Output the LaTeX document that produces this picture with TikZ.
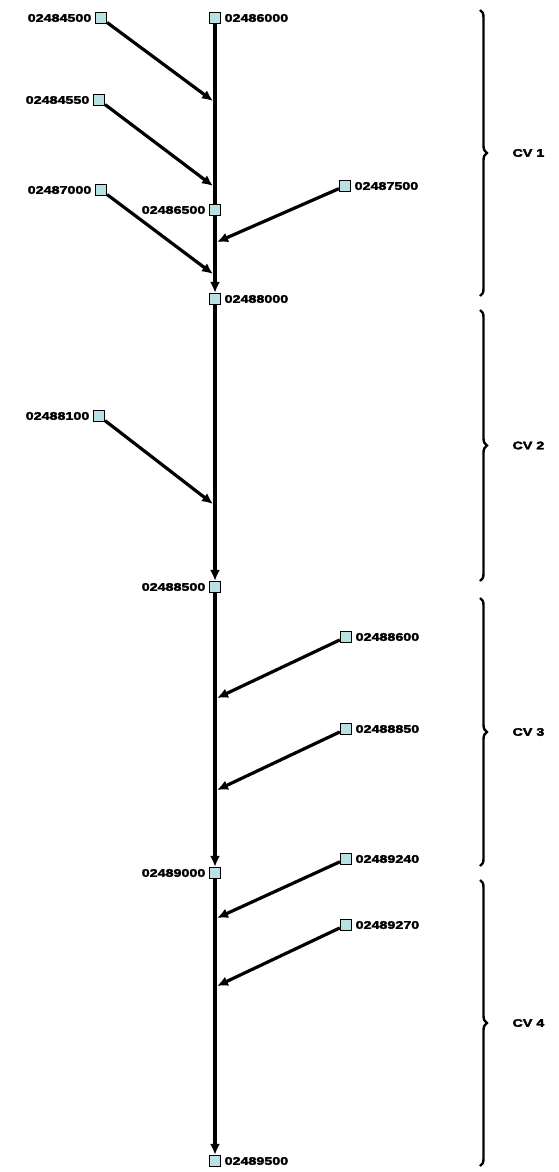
\documentclass[tikz,border=0pt]{standalone}
\usepackage{fontspec}
\newfontfamily\gagefont[FakeStretch=1.3,FakeBold=3]{Liberation Sans Bold}
\usetikzlibrary{arrows.meta,decorations.pathreplacing}
\definecolor{gagefill}{HTML}{B9E0E2}
\tikzset{font=\gagefont\fontsize{11}{12}\selectfont}
\tikzset{gage/.style={draw,line width=1.2pt,fill=gagefill,minimum size=11pt,inner sep=0pt,label distance=3pt}}
\tikzset{flow/.style={line width=3.2pt,-{Latex[length=11pt,width=10pt]}}}
\tikzset{reach/.style={line width=3.2pt}}

\begin{document}
\begin{tikzpicture}[x=1pt,y=-1pt]
  \useasboundingbox (0,0) rectangle (559,1172);
  % main stem gages
  \node[gage,label=right:02486000] (m1) at (215,18) {};
  \node[gage,label=left:02486500] (m2) at (215,210) {};
  \node[gage,label=right:02488000] (m3) at (215,299) {};
  \node[gage,label=left:02488500] (m4) at (215,587) {};
  \node[gage,label=left:02489000] (m5) at (215,873) {};
  \node[gage,label=right:02489500] (m6) at (215,1161) {};
  % tributary gages
  \node[gage,label=left:02484500] (t1) at (101,18) {};
  \node[gage,label=left:02484550] (t2) at (99,100) {};
  \node[gage,label=left:02487000] (t3) at (101,190) {};
  \node[gage,label=right:02487500] (t4) at (345,186) {};
  \node[gage,label=left:02488100] (t5) at (99,416) {};
  \node[gage,label=right:02488600] (t6) at (346,637) {};
  \node[gage,label=right:02488850] (t7) at (346,729) {};
  \node[gage,label=right:02489240] (t8) at (346,859) {};
  \node[gage,label=right:02489270] (t9) at (346,925) {};
  % junctions on the main stem
  \coordinate (j1) at (213,101);
  \coordinate (j2) at (213,186);
  \coordinate (j3) at (213,274);
  \coordinate (j4) at (217,242);
  \coordinate (j5) at (213,504);
  \coordinate (j6) at (217,698);
  \coordinate (j7) at (217,790);
  \coordinate (j8) at (217,918);
  \coordinate (j9) at (217,986);
  % main stem
  \draw[reach] (m1) -- (m2);
  \foreach \a/\b in {m2/m3, m3/m4, m4/m5, m5/m6}
    \draw[flow] (\a) -- (\b);
  % tributaries
  \foreach \t/\j in {t1/j1, t2/j2, t3/j3, t4/j4, t5/j5, t6/j6, t7/j7, t8/j8, t9/j9}
    \draw[flow] (\t) -- (\j);
  % control volumes
  \foreach \y/\z/\n in {10/296/1, 310/581/2, 598/866/3, 880/1166/4} {
    \draw[line width=2.4pt,decorate,decoration={brace,amplitude=7pt}] (480,\y) -- (480,\z)
      node[midway,right=28pt] {CV \n};
  }
\end{tikzpicture}
\end{document}
